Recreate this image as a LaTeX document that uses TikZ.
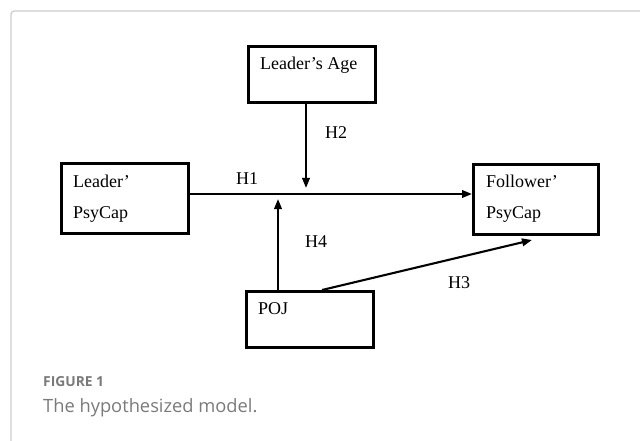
\documentclass[tikz,border=0pt]{standalone}
\usepackage{fontspec}
\setmainfont{Liberation Serif}
\newfontfamily\capfont{Open Sans}
\usetikzlibrary{arrows.meta,calc}
\definecolor{framegray}{HTML}{CCCCCC}
\definecolor{capgray}{HTML}{7A7A7A}
\begin{document}
\begin{tikzpicture}[x=1pt,y=-1pt,
  box/.style={draw=black,line width=2.6pt,minimum width=127pt,inner sep=0pt,anchor=north west},
  txt/.style={inner sep=0pt,anchor=base west,font=\fontsize{18}{22}\selectfont},
  arr/.style={line width=2.1pt,-{Triangle[length=10pt,width=7.5pt]}}]
\useasboundingbox (0,0) rectangle (640,441);
\draw[framegray,line width=1.2pt,rounded corners=3pt] (11,441) -- (11,11) -- (640,11);
% boxes
\node[box,minimum height=56pt] (age) at (247,45) {};
\node[box,minimum height=70pt] (lpc) at (60,162) {};
\node[box,minimum width=125pt,minimum height=70pt] (fpc) at (472,163) {};
\node[box,minimum height=56pt] (poj) at (245,290) {};
% texts
\node[txt] (agetxt) at (260,70) {Leader’s Age};
\node[txt] (lpc1) at (73,187) {Leader’};
\node[txt] (lpc2) at (73,218) {PsyCap};
\node[txt] (fpc1) at (486,187) {Follower’};
\node[txt] (fpc2) at (486,218) {PsyCap};
\node[txt] (pojtxt) at (258,314) {POJ};
% connectors
\coordinate (hy) at (0,194);
\coordinate (c2) at (306,188);
\coordinate (c4) at (278,199);
\coordinate (c3) at (532,240);
\draw[arr] (lpc.east |- hy) -- (fpc.west |- hy);
\draw[arr] (age.south -| c2) -- (c2);
\draw[arr] (poj.north -| c4) -- (c4);
\draw[arr] ($(poj.north west)+(77,0)$) -- (c3);
% labels
\node[txt] (h1) at (236,185) {H1};
\node[txt] (h2) at (325,139) {H2};
\node[txt] (h4) at (305,247) {H4};
\node[txt] (h3) at (448,288) {H3};
% caption
\node[inner sep=0pt,anchor=base west,text=capgray,font=\capfont\bfseries\fontsize{13.8}{16}\selectfont] (fig) at (43,386) {FIGURE 1};
\node[inner sep=0pt,anchor=base west,text=capgray,font=\capfont\fontsize{18.3}{21}\selectfont] (cap) at (43,412) {The hypothesized model.};
\end{tikzpicture}
\end{document}
